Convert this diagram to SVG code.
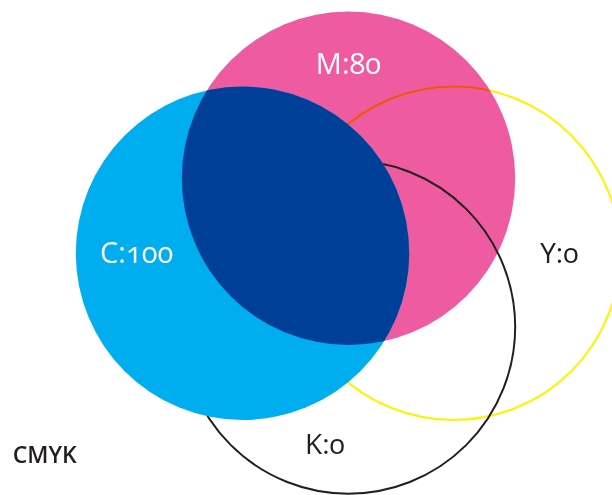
<svg xmlns="http://www.w3.org/2000/svg" width="612" height="495" viewBox="0 0 612 495">
<style>
.lbl{font-family:"Open Sans","Noto Sans","Liberation Sans",sans-serif;font-size:28px;font-variant-numeric:oldstyle-nums;font-feature-settings:"onum" 1;text-anchor:middle}
.big{font-size:29px}
.w{fill:#ffffff}
.d{fill:#231f20}
</style>
<defs>
<clipPath id="clipM"><circle cx="348.5" cy="178.3" r="166.7"/></clipPath>
</defs>
<rect width="612" height="495" fill="#ffffff"/>
<g id="magenta">
<circle cx="348.5" cy="178.3" r="166.7" fill="#ef5ba1"/>
</g>
<g id="yellow">
<circle cx="453.5" cy="253.3" r="166.7" fill="none" stroke="#fff200" stroke-width="2" style="mix-blend-mode:multiply"/>
</g>
<g id="black">
<circle cx="348.5" cy="327" r="166.7" fill="none" stroke="#231f20" stroke-width="2"/>
</g>
<g id="cyan">
<circle cx="242.5" cy="253.3" r="166.7" fill="#00aeef"/>
<circle cx="242.5" cy="253.3" r="166.7" fill="#003f98" clip-path="url(#clipM)"/>
</g>
<g id="labels">
<text class="lbl big w" x="348.5" y="74">M:80</text>
<text class="lbl big w" x="136.7" y="262.7">C:100</text>
<text class="lbl d" x="559.3" y="262.7">Y:0</text>
<text class="lbl d" x="325" y="454">K:0</text>
<text x="12.7" y="462.7" style="font-family:'Open Sans','Noto Sans','Liberation Sans',sans-serif;font-size:23px;font-weight:600" class="d">CMYK</text>
</g>
</svg>
